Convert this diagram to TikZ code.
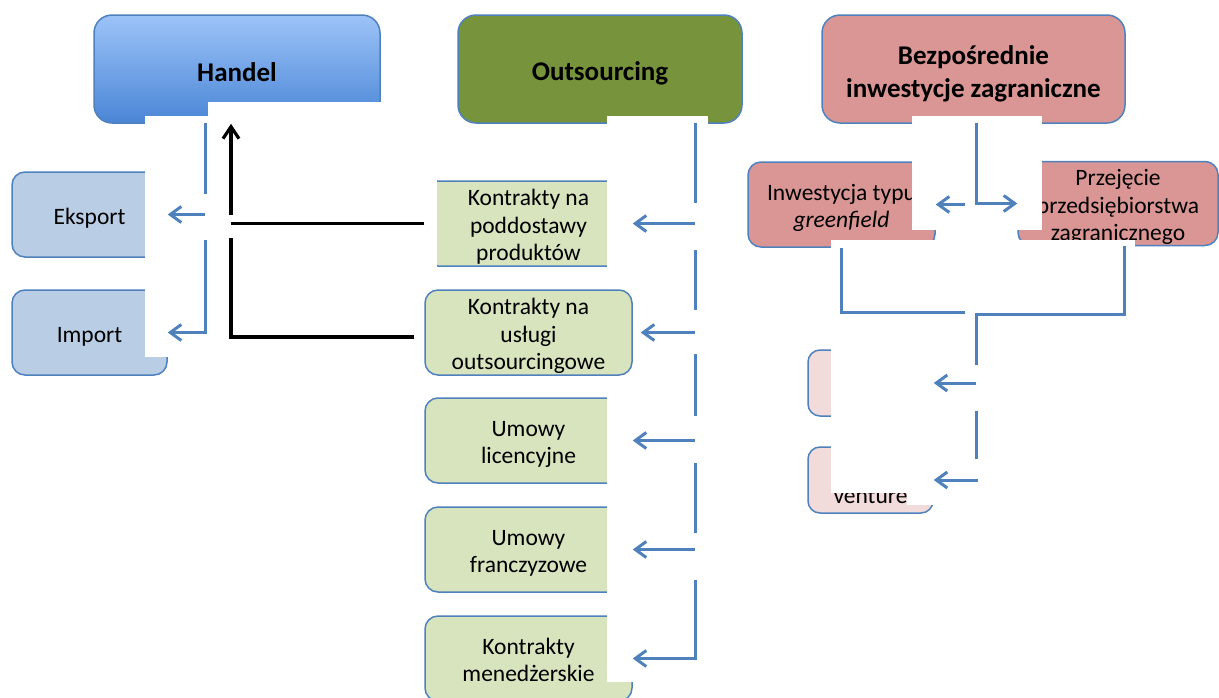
\documentclass[tikz,border=0pt]{standalone}
\usepackage{fontspec}
\setmainfont{Carlito}
\usetikzlibrary{arrows.meta,calc}
\definecolor{edge}{HTML}{4F81BD}
\definecolor{tradetop}{HTML}{9DC3F8}
\definecolor{tradebot}{HTML}{4A86D6}
\definecolor{outsfill}{HTML}{77933C}
\definecolor{fdifill}{HTML}{D99694}
\definecolor{tradesub}{HTML}{B9CDE5}
\definecolor{outssub}{HTML}{D7E4BD}
\definecolor{fdisub}{HTML}{F2DCDB}
\newcommand\upln{\rule{0pt}{24pt}}
\newcommand\dnln{\rule[-5pt]{0pt}{5pt}}
\newcommand\upbf{\rule{0pt}{28pt}}
\newcommand\dnbf{\rule[-4pt]{0pt}{4pt}}

\begin{document}
\begin{tikzpicture}[x=1pt,y=-1pt,
      topbox/.style={draw=edge,line width=1.5pt,rounded corners=18pt,minimum height=108pt,inner sep=0pt,align=center,font=\fontsize{27}{33}\selectfont\bfseries},
      subbox/.style={draw=edge,line width=1.5pt,rounded corners=13pt,minimum height=85pt,inner sep=0pt,align=center,font=\fontsize{23.5}{27.5}\selectfont},
      mask/.style={fill=white,draw=none},
      link/.style={draw=edge,line width=3pt},
      conn/.style={link,-{Straight Barb[length=11pt,width=16pt]}},
      blk/.style={draw=black,line width=3.2pt},
      blkarr/.style={blk,-{Straight Barb[length=12pt,width=16pt]}}
    ]
      \fill[white] (0,0) rectangle (1219,697);
      \useasboundingbox (0,0) rectangle (1219,697);
      \clip (0,0) rectangle (1219,697);
      \node[topbox,minimum width=286pt,top color=tradetop,bottom color=tradebot] (handel) at (237,69) {\upbf Handel\dnbf};
      \node[topbox,minimum width=284pt,fill=outsfill] (outs) at (600,69) {\upbf Outsourcing\dnbf};
      \node[topbox,minimum width=303pt,fill=fdifill] (bei) at (973.5,69) {\upbf Bezpośrednie\\inwestycje zagraniczne\dnbf};
      \node[subbox,minimum width=155pt,fill=tradesub] (eksport) at (89.5,214.5) {\upln Eksport\dnln};
      \node[subbox,minimum width=155pt,fill=tradesub] (import) at (89.5,332.5) {\upln Import\dnln};
      \node[subbox,minimum width=207pt,fill=outssub] (g1) at (528.5,223.5) {\upln Kontrakty na\\poddostawy\\produktów\dnln};
      \node[subbox,minimum width=207pt,fill=outssub] (g3) at (528.5,440.5) {\upln Umowy\\licencyjne\dnln};
      \node[subbox,minimum width=207pt,fill=outssub] (g4) at (528.5,549.5) {\upln Umowy\\franczyzowe\dnln};
      \node[subbox,minimum width=207pt,fill=outssub] (g5) at (528.5,658.5) {\upln Kontrakty\\menedżerskie\dnln};
      \node[subbox,minimum width=187pt,fill=fdifill] (gf) at (841.5,204.5) {\upln Inwestycja typu\\\textit{greenfield}\dnln};
      \node[subbox,minimum width=200pt,minimum height=83pt,fill=fdifill] (prz) at (1118,203.5) {\upln Przejęcie\\przedsiębiorstwa\\zagranicznego\dnln};
      \node[subbox,minimum width=125pt,minimum height=66pt,rounded corners=12pt,fill=fdisub] (bei3) at (870.5,383) {};
      \node[subbox,minimum width=125pt,minimum height=66pt,rounded corners=12pt,fill=fdisub] (bei4) at (870.5,480) {\upln\\venture\dnln};

      \fill[mask] (145,116) rectangle (208,357);
      \fill[mask] (208,102) rectangle (437,272);
      \fill[mask] (607,116) rectangle (708,682);
      \fill[mask] (912,116) rectangle (1042,230);
      \fill[mask] (831,240) rectangle (1135,493);
      \fill[mask] (907,493) rectangle (975,505);

      \node[subbox,minimum width=207pt,fill=outssub] (g2) at (528.5,332.5) {\upln Kontrakty na\\usługi\\outsourcingowe\dnln};

      \coordinate (ht) at (205,123);
      \coordinate (ot) at (695,123);
      \coordinate (bt) at (976,123);
      \coordinate (lj) at (965,312);
      \coordinate (lt) at (976,314);
      \coordinate (hb) at ([xshift=-6pt]handel.south);

      \draw[conn] (ht) |- (import.east);
      \draw[conn] (ot) |- (g5.east);
      \draw[conn] (bt) |- (prz.west);
      \draw[link] (gf.south) |- (lj);
      \draw[conn] ([xshift=6pt]prz.south) |- (lt) |- (bei4.east);
      \draw[blkarr] ([xshift=-10pt,yshift=-4.5pt]g2.west) -| (hb);

      \fill[mask] (199,194) rectangle (211,240);
      \fill[mask] (688,203) rectangle (702,250);
      \fill[mask] (688,310) rectangle (702,354);
      \fill[mask] (688,416) rectangle (702,463);
      \fill[mask] (688,533) rectangle (702,580);
      \fill[mask] (969,365) rectangle (983,411);
      \fill[mask] (969,459) rectangle (983,478.5);
      \fill[mask] (224,215) rectangle (238,238);

      \draw[conn] (ht |- eksport.east) -- (eksport.east);
      \draw[conn] (ot |- g1.east) -- (g1.east);
      \draw[conn,shorten >=8pt] (ot |- g2.east) -- (g2.east);
      \draw[conn] (ot |- g3.east) -- (g3.east);
      \draw[conn] (ot |- g4.east) -- (g4.east);
      \draw[conn,shorten <=11pt] (bt |- gf.east) -- (gf.east);
      \draw[conn] (lt |- bei3.east) -- (bei3.east);
      \draw[blk] (g1.west) -- (g1.west -| hb);
    \end{tikzpicture}
\end{document}
